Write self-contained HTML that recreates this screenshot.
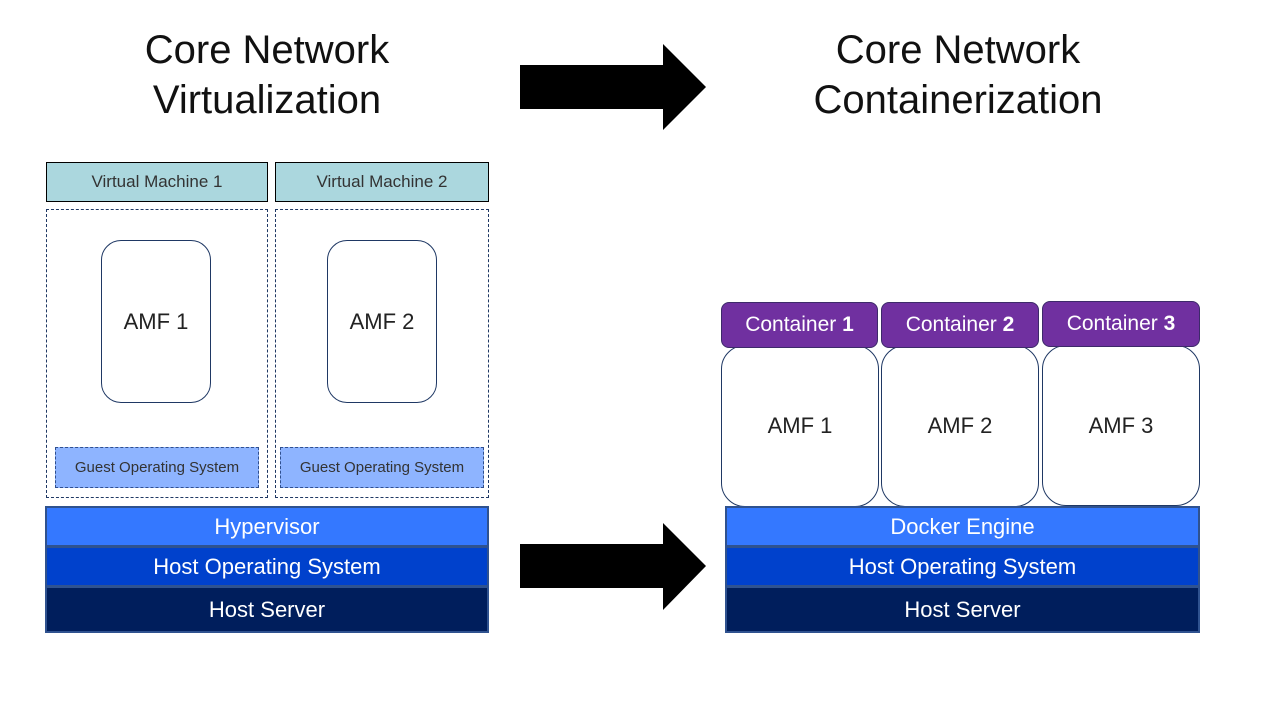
<!DOCTYPE html>
<html><head><meta charset="utf-8"><style>
*{margin:0;padding:0;box-sizing:border-box}
body{width:1280px;height:720px;background:#fff;position:relative;overflow:hidden;font-family:"Liberation Sans",sans-serif}
.a{position:absolute;display:flex;align-items:center;justify-content:center;text-align:center;white-space:nowrap}
.t{font-size:40px;line-height:50px;color:#111;flex-direction:column}
.vm{background:#abd7de;border:1.5px solid #000;font-size:17px;color:#333}
.dash{border:1.3px dashed #1f3864}
.amf{border:1.2px solid #1f3864;border-radius:20px;font-size:22px;color:#222;background:#fff}
.gos{background:#8eb4ff;border:1px dashed #2f4f8f;font-size:15px;color:#333}
.lay{border:2px solid #2f528f;color:#fff;font-size:22px}
.c{background:#7030a0;border:1px solid #3d2a6a;border-radius:8px;color:#fff;font-size:21px}
</style></head><body>
<div class="a t" style="left:67px;top:25px;width:400px;height:100px"><div>Core Network</div><div>Virtualization</div></div>
<div class="a t" style="left:758px;top:25px;width:400px;height:100px"><div>Core Network</div><div>Containerization</div></div>
<svg width="1280" height="720" style="position:absolute;left:0;top:0">
<polygon points="520,65 663,65 663,44 706,87 663,130 663,109 520,109" fill="#000"/>
<polygon points="520,544 663,544 663,523 706,566 663,610 663,588 520,588" fill="#000"/>
</svg>
<div class="a vm" style="left:46px;top:162px;width:222px;height:40px">Virtual Machine 1</div>
<div class="a vm" style="left:275px;top:162px;width:214px;height:40px">Virtual Machine 2</div>
<div class="a dash" style="left:46px;top:209px;width:222px;height:289px"></div>
<div class="a dash" style="left:275px;top:209px;width:214px;height:289px"></div>
<div class="a amf" style="left:101px;top:240px;width:110px;height:163px">AMF 1</div>
<div class="a amf" style="left:327px;top:240px;width:110px;height:163px">AMF 2</div>
<div class="a gos" style="left:55px;top:447px;width:204px;height:41px">Guest Operating System</div>
<div class="a gos" style="left:280px;top:447px;width:204px;height:41px">Guest Operating System</div>
<div class="a lay" style="left:45px;top:506px;width:444px;height:41px;background:#3478ff">Hypervisor</div>
<div class="a lay" style="left:45px;top:546px;width:444px;height:41px;background:#0041cc">Host Operating System</div>
<div class="a lay" style="left:45px;top:586px;width:444px;height:47px;background:#001e5c">Host Server</div>

<div class="a amf" style="left:721px;top:345px;width:158px;height:162px;border-radius:24px"><span style="margin-top:0">AMF 1</span></div>
<div class="a amf" style="left:881px;top:345px;width:158px;height:162px;border-radius:24px">AMF 2</div>
<div class="a amf" style="left:1042px;top:345px;width:158px;height:161px;border-radius:24px">AMF 3</div>
<div class="a c" style="left:721px;top:302px;width:157px;height:46px">Container&nbsp;<b>1</b></div>
<div class="a c" style="left:881px;top:302px;width:158px;height:46px">Container&nbsp;<b>2</b></div>
<div class="a c" style="left:1042px;top:301px;width:158px;height:46px">Container&nbsp;<b>3</b></div>
<div class="a lay" style="left:725px;top:506px;width:475px;height:41px;background:#3478ff">Docker Engine</div>
<div class="a lay" style="left:725px;top:546px;width:475px;height:41px;background:#0041cc">Host Operating System</div>
<div class="a lay" style="left:725px;top:586px;width:475px;height:47px;background:#001e5c">Host Server</div>
</body></html>
